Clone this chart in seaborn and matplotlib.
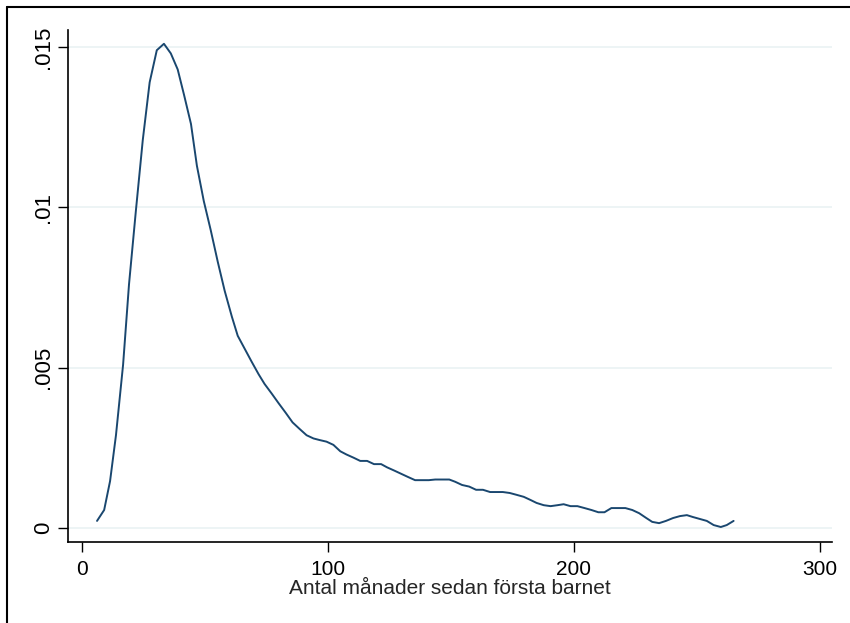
import numpy as np
import pandas as pd
import matplotlib
matplotlib.use('Agg')
import matplotlib.pyplot as plt
import seaborn as sns
from matplotlib.lines import Line2D

# months since first child and estimated density
months = [6.2, 9.1, 11.5, 13.9, 16.8, 19.2, 22.0, 24.8, 27.6, 30.5, 33.4, 36.2, 39.0,
          41.6, 44.4, 46.8, 49.6, 52.4, 55.3, 58.1, 61.0, 63.4, 66.2, 69.0, 71.9, 74.3,
          77.2, 80.0, 82.9, 85.7, 88.5, 91.4, 94.2, 96.7, 99.5, 102.3, 105.1, 107.6, 110.5,
          113.2, 116.0, 118.8, 121.7, 124.1, 127.0, 129.8, 132.6, 135.5, 138.3, 141.1,
          143.7, 146.6, 149.4, 151.8, 154.6, 157.5, 160.3, 163.1, 166.0, 168.8, 171.2,
          174.0, 176.9, 179.7, 182.5, 184.9, 187.8, 190.6, 193.4, 195.9, 198.7, 201.5,
          204.4, 207.2, 210.0, 212.5, 215.3, 218.1, 221.0, 223.8, 226.6, 229.5, 231.9,
          234.7, 237.5, 240.4, 243.2, 246.0, 248.5, 251.3, 254.1, 256.9, 259.8, 262.2,
          265.0]
density = [0.00023, 0.00057, 0.00147, 0.0029, 0.0051, 0.0076, 0.0099, 0.0121, 0.0139,
           0.0149, 0.0151, 0.0148, 0.0143, 0.0135, 0.0126, 0.0113, 0.0102, 0.0093, 0.0083,
           0.0074, 0.0066, 0.0060, 0.0056, 0.0052, 0.0048, 0.0045, 0.0042, 0.0039, 0.0036,
           0.0033, 0.0031, 0.0029, 0.0028, 0.00275, 0.0027, 0.0026, 0.0024, 0.0023, 0.0022,
           0.0021, 0.0021, 0.0020, 0.0020, 0.0019, 0.0018, 0.0017, 0.0016, 0.0015, 0.0015,
           0.0015, 0.00152, 0.00152, 0.00152, 0.00145, 0.00135, 0.0013, 0.0012, 0.0012,
           0.00113, 0.00113, 0.00113, 0.0011, 0.00104, 0.00098, 0.00088, 0.00079, 0.00072,
           0.00069, 0.00072, 0.00075, 0.00069, 0.00069, 0.00063, 0.00057, 0.0005, 0.0005,
           0.00063, 0.00063, 0.00063, 0.00057, 0.00047, 0.00032, 0.0002, 0.00016, 0.00023,
           0.00032, 0.00038, 0.00041, 0.00035, 0.00029, 0.00023, 0.0001, 0.00004, 0.0001,
           0.00023]

y_ticks = [0, 0.005, 0.01, 0.015]
y_labels = ['0', '.005', '.01', '.015']
x_ticks = [0, 100, 200, 300]

df = pd.DataFrame({'months': months, 'density': density})

sns.set_style('white')
plt.rcParams['font.family'] = ['Liberation Sans', 'DejaVu Sans']

fig = plt.figure(figsize=(8.5, 6.23), dpi=100)
W, H = 850, 623
ax = fig.add_axes([68 / W, 1 - 541.7 / H, (832 - 68) / W, (541.7 - 30) / H])

sns.lineplot(data=df, x='months', y='density', ax=ax, color='#1a476f',
             linewidth=1.4, sort=False)

ax.set_xlim(-5.6, 305)
ax.set_ylim(-0.000418, 0.01553)
ax.set_yticks(y_ticks)
ax.set_yticklabels(y_labels, rotation=90, va='center')
ax.set_xticks(x_ticks)
ax.grid(axis='y', color='#eaf2f3', linewidth=1.2)
ax.grid(axis='x', visible=False)
ax.set_axisbelow(True)

for side in ['top', 'right']:
    ax.spines[side].set_visible(False)
for side in ['left', 'bottom']:
    ax.spines[side].set_color('black')
    ax.spines[side].set_linewidth(1.2)

ax.tick_params(axis='both', direction='out', length=7.2, width=1, color='black',
               labelsize=15, labelcolor='black', left=True, bottom=True)
for lab in ax.get_yticklabels():
    lab.set_fontsize(16)
ax.tick_params(axis='y', pad=3)
ax.tick_params(axis='x', pad=6)

ax.set_xlabel('Antal månader sedan första barnet', fontsize=15, labelpad=0)
ax.set_ylabel('')

# outer frame (cropped region of a larger graph)
fig.add_artist(Line2D([6.5 / W, 6.5 / W], [0, 1 - 7 / H], transform=fig.transFigure,
                      color='black', linewidth=1.5))
fig.add_artist(Line2D([6.5 / W, 1], [1 - 7 / H, 1 - 7 / H], transform=fig.transFigure,
                      color='black', linewidth=1.5))

fig.savefig('out.png', dpi=100, facecolor='white')
